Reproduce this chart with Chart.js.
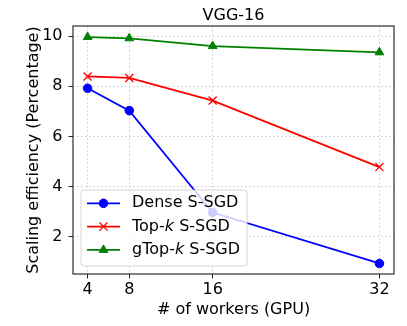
<!DOCTYPE html>
<html>
<head>
<meta charset="utf-8">
<script src="https://cdn.jsdelivr.net/npm/chart.js@4"></script>
<style>
html,body{margin:0;padding:0;background:#fff;}
canvas{display:block;}
</style>
</head>
<body>
<canvas id="c" width="407" height="326"></canvas>
<script>
const titleText = "VGG-16";
const xLabel = "# of workers (GPU)";
const yLabel = "Scaling efficiency (Percentage)";
const workers = [4, 8, 16, 32];
const denseSGD = [7.92, 7.03, 2.97, 0.94];
const topkSGD = [8.39, 8.33, 7.43, 4.78];
const gtopkSGD = [9.96, 9.91, 9.60, 9.35];
const xTicks = [4, 8, 16, 32];
const yTicks = [2, 4, 6, 8, 10];
// legend labels: [prefix, italic part, suffix]
const legendParts = [["Dense S-SGD", "", ""], ["Top-", "k", " S-SGD"], ["gTop-", "k", " S-SGD"]];

const FONT = "DejaVu Sans";
Chart.defaults.font.family = FONT;
Chart.defaults.font.size = 16;
Chart.defaults.color = "#000";

const toPts = arr => workers.map((w, i) => ({x: w, y: arr[i]}));

const frameAndLegend = {
  id: 'frameAndLegend',
  afterDraw(chart) {
    const ctx = chart.ctx;
    const a = chart.chartArea;
    ctx.save();
    // frame
    ctx.strokeStyle = "#1a1a1a";
    ctx.lineWidth = 1.1;
    ctx.strokeRect(a.left, a.top, a.right - a.left, a.bottom - a.top);
    // title
    ctx.fillStyle = "#000";
    ctx.font = "16px '" + FONT + "'";
    ctx.textAlign = "center";
    ctx.textBaseline = "alphabetic";
    ctx.fillText(titleText, (a.left + a.right) / 2, 19.5);
    // legend box
    const lx = 81, ly = 190, lw = 166, lh = 76, r = 3;
    ctx.beginPath();
    ctx.moveTo(lx + r, ly);
    ctx.arcTo(lx + lw, ly, lx + lw, ly + lh, r);
    ctx.arcTo(lx + lw, ly + lh, lx, ly + lh, r);
    ctx.arcTo(lx, ly + lh, lx, ly, r);
    ctx.arcTo(lx, ly, lx + lw, ly, r);
    ctx.closePath();
    ctx.fillStyle = "rgba(255,255,255,0.8)";
    ctx.fill();
    ctx.strokeStyle = "rgba(204,204,204,0.8)";
    ctx.lineWidth = 1;
    ctx.stroke();
    chart.data.datasets.forEach((ds, i) => {
      const cy = 203.3 + i * 23.3;
      ctx.strokeStyle = ds.borderColor;
      ctx.lineWidth = ds.borderWidth;
      ctx.beginPath();
      ctx.moveTo(87, cy);
      ctx.lineTo(120, cy);
      ctx.stroke();
      ctx.fillStyle = ds.pointBackgroundColor;
      ctx.strokeStyle = ds.borderColor;
      ctx.lineWidth = ds.pointBorderWidth;
      ctx.beginPath();
      Chart.helpers.drawPoint(ctx, {pointStyle: ds.pointStyle, radius: ds.pointRadius, borderWidth: ds.pointBorderWidth, rotation: 0}, 103.5, cy);
      // text
      const p = legendParts[i];
      ctx.fillStyle = "#000";
      ctx.textAlign = "left";
      ctx.textBaseline = "middle";
      let tx = 132;
      ctx.font = "16px '" + FONT + "'";
      ctx.fillText(p[0], tx, cy);
      tx += ctx.measureText(p[0]).width;
      if (p[1]) {
        ctx.font = "italic 16px '" + FONT + "'";
        ctx.fillText(p[1], tx, cy);
        tx += ctx.measureText(p[1]).width;
        ctx.font = "16px '" + FONT + "'";
        ctx.fillText(p[2], tx, cy);
      }
    });
    ctx.restore();
  }
};

const mkDs = (label, data, color, style, radius, bw) => ({
  label, data: toPts(data),
  borderColor: color, backgroundColor: color,
  pointBackgroundColor: color, pointBorderColor: color,
  borderWidth: 1.8, pointStyle: style, pointRadius: radius, pointHoverRadius: radius,
  pointBorderWidth: bw, tension: 0, fill: false
});

const gridCommon = {
  color: "rgba(176,176,176,0.75)", lineWidth: 0.9,
  tickColor: "#262626", tickLength: 4.5, tickWidth: 1, tickBorderDash: []
};

new Chart(document.getElementById('c'), {
  type: 'line',
  data: {
    datasets: [
      mkDs("Dense S-SGD", denseSGD, "#0000ff", "circle", 4.3, 1),
      mkDs("Top-k S-SGD", topkSGD, "#ff0000", "crossRot", 5.7, 1.3),
      mkDs("gTop-k S-SGD", gtopkSGD, "#008000", "triangle", 5, 1)
    ]
  },
  options: {
    responsive: false,
    animation: false,
    devicePixelRatio: 1,
    layout: {padding: {left: 0, top: 26, right: 13, bottom: 0}},
    plugins: {legend: {display: false}, title: {display: false}, tooltip: {enabled: false}},
    scales: {
      x: {
        type: 'linear', min: 2.6, max: 33.4,
        afterBuildTicks: s => { s.ticks = xTicks.map(v => ({value: v})); },
        afterFit: s => { s.height = 52; },
        ticks: {padding: 2, maxRotation: 0, autoSkip: false, color: "#000", font: {size: 16}},
        grid: gridCommon,
        border: {display: false, dash: [1.5, 2.5]},
        title: {display: true, text: xLabel, color: "#000", font: {size: 16}, padding: {top: 0, bottom: 7}}
      },
      y: {
        type: 'linear', min: 0.52, max: 10.4,
        afterBuildTicks: s => { s.ticks = yTicks.map(v => ({value: v})); },
        afterFit: s => { s.width = 73; },
        ticks: {padding: 6, color: "#000", font: {size: 16}},
        grid: gridCommon,
        border: {display: false, dash: [1.5, 2.5]},
        title: {display: true, text: yLabel, color: "#000", font: {size: 16}, padding: {top: 24, bottom: 0}}
      }
    }
  },
  plugins: [frameAndLegend]
});
</script>
</body>
</html>
